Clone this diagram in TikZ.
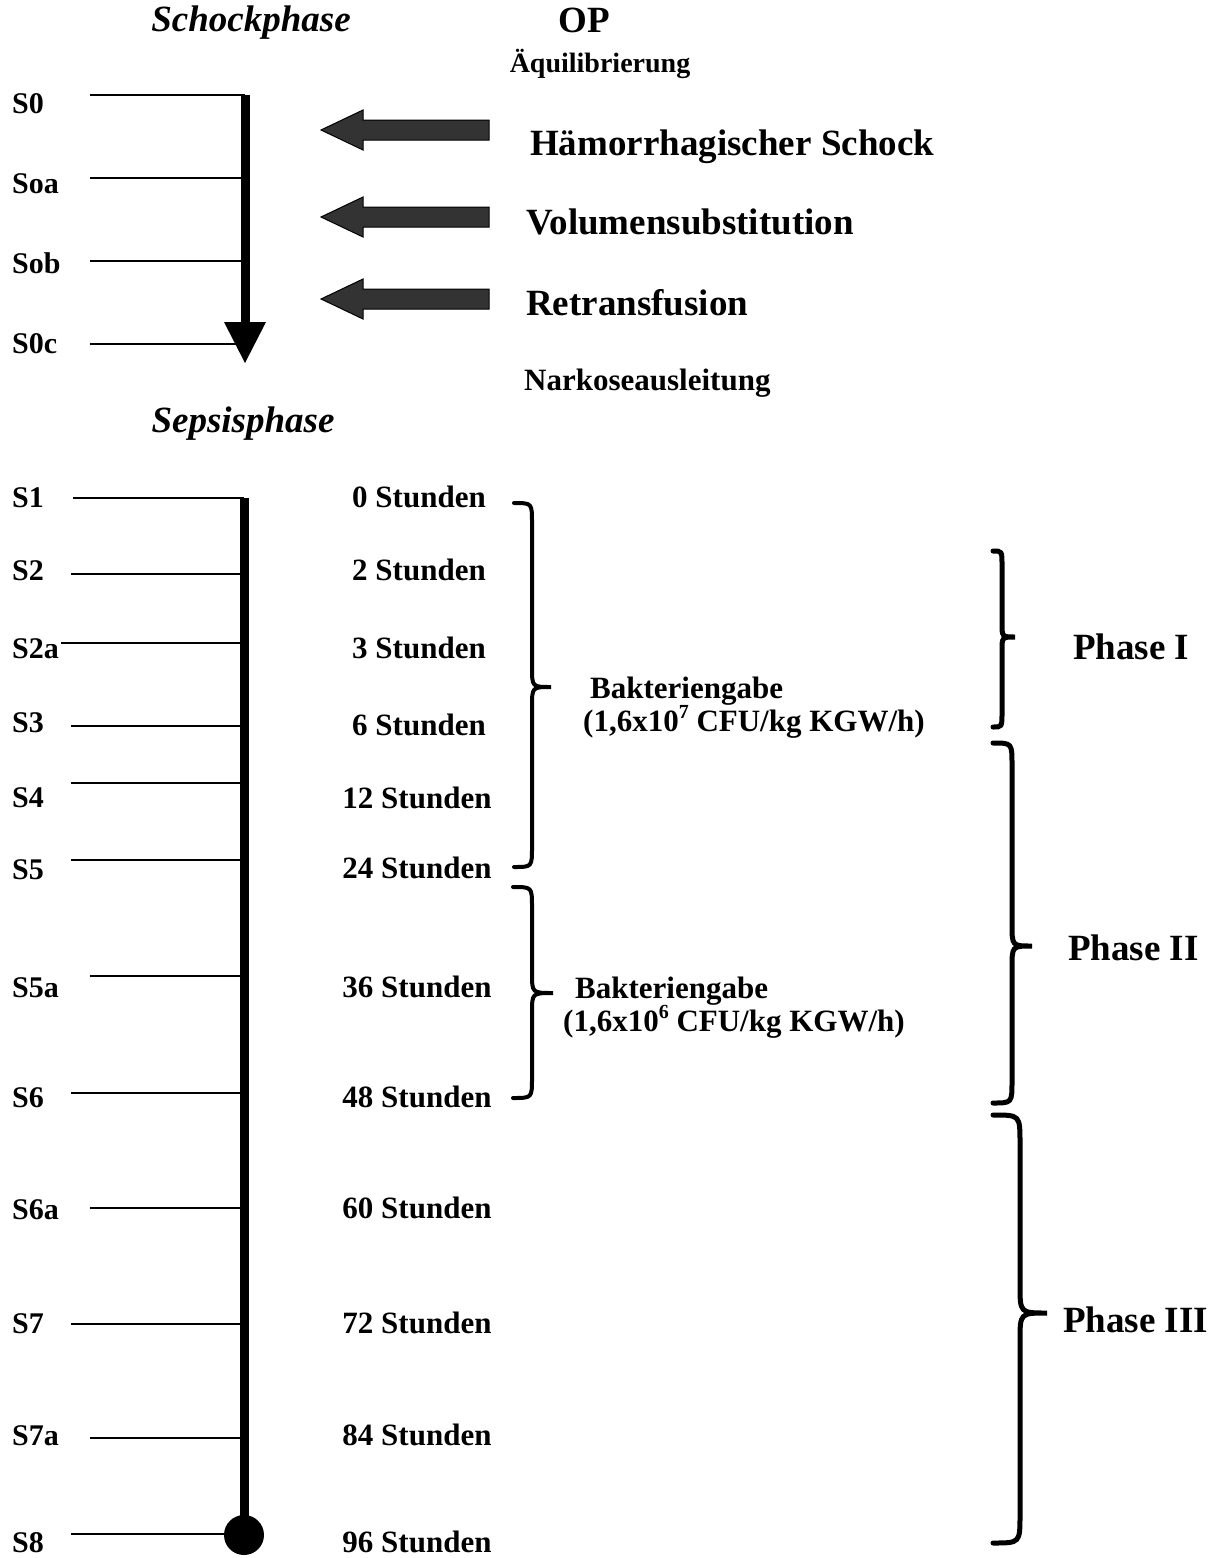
\documentclass[tikz,border=0pt]{standalone}
\usepackage{fontspec}
\setmainfont{Liberation Serif}
\newcommand\fsz[1]{\fontsize{#1}{#1}\selectfont}
\newcommand\supx[1]{\raisebox{0.4em}{\fontsize{20}{20}\selectfont\bfseries #1}}
\newcommand\mybrace[8]{%
  \draw[#8] (#1,#4) .. controls (#2,#4) .. (#2,#4+#7) -- (#2,#5-#7)
    .. controls (#2,#5) .. (#3,#5) .. controls (#2,#5) .. (#2,#5+#7)
    -- (#2,#6-#7) .. controls (#2,#6) .. (#1,#6);}
\tikzset{
  lbl/.style={anchor=base west, inner sep=0pt, font=\fsz{30}\bfseries},
  hrs/.style={anchor=base, inner sep=0pt, font=\fsz{31}\bfseries},
  big/.style={anchor=base west, inner sep=0pt, font=\fsz{37}\bfseries},
  ttl/.style={anchor=base, inner sep=0pt, font=\fsz{37}\bfseries\itshape},
  bak/.style={anchor=base west, inner sep=0pt, font=\fsz{31}\bfseries},
  tick/.style={line width=2pt},
  axis/.style={line width=9pt},
  blockarrow/.style={fill={rgb,255:red,51;green,51;blue,51}, draw=black, line width=1pt},
  bracethin/.style={line width=4pt, line cap=round},
  bracethick/.style={line width=5pt, line cap=round}
}
\begin{document}
\begin{tikzpicture}[x=1pt, y=-1pt]
\useasboundingbox (0,0) rectangle (1224,1558);
% ---------- titles
\node[ttl] (schock) at (251,31) {Schockphase};
\node[anchor=base, inner sep=0pt, font=\fsz{37}\bfseries] (op) at (584,32) {OP};
\node[anchor=base, inner sep=0pt, font=\fsz{28}\bfseries] (aequi) at (600,72) {Äquilibrierung};
\node[ttl] (sepsis) at (243,432) {Sepsisphase};
% ---------- shock phase axis
\coordinate (ax0) at (245,95);
\coordinate (ax1) at (245,322);
\draw[axis] (ax0) -- (ax1);
\fill (224,322) -- (266,322) -- (245,363) -- cycle;
\foreach \y/\xl/\xr in {95/90/245, 178/90/245, 261/90/245, 344/90/240}
  {\draw[tick] (\xl,\y) -- (\xr,\y);}
\node[lbl] (S0) at (12,113) {S0};
\node[lbl] (Soa) at (12,193) {Soa};
\node[lbl] (Sob) at (12,273) {Sob};
\node[lbl] (S0c) at (12,353) {S0c};
% ---------- block arrows
\foreach \c in {130,217,299}
  {\draw[blockarrow] (321,\c) -- (363,\c-20) -- (363,\c-10) -- (489,\c-10) -- (489,\c+10) -- (363,\c+10) -- (363,\c+20) -- cycle;}
\node[big] (haem) at (530,155) {Hämorrhagischer Schock};
\node[big] (vol) at (526,234) {Volumensubstitution};
\node[big] (retr) at (526,315) {Retransfusion};
\node[anchor=base west, inner sep=0pt, font=\fsz{31}\bfseries] (nark) at (524,390) {Narkoseausleitung};
% ---------- sepsis axis
\coordinate (sx0) at (244,498);
\coordinate (sx1) at (244,1535);
\draw[axis] (sx0) -- (sx1);
\foreach \y/\xl in {498/73, 574/71, 643/61, 726/71, 783/71, 860/71, 976/90, 1093/71, 1208/90, 1324/71, 1438/90, 1534/71}
  {\draw[tick] (\xl,\y) -- (244,\y);}
\fill (sx1) circle (20);
\node[lbl] (S1) at (12,507) {S1};
\node[lbl] (S2) at (12,580) {S2};
\node[lbl] (S2a) at (12,658) {S2a};
\node[lbl] (S3) at (12,732) {S3};
\node[lbl] (S4) at (12,807) {S4};
\node[lbl] (S5) at (12,879) {S5};
\node[lbl] (S5a) at (12,997) {S5a};
\node[lbl] (S6) at (12,1107) {S6};
\node[lbl] (S6a) at (12,1219) {S6a};
\node[lbl] (S7) at (12,1333) {S7};
\node[lbl] (S7a) at (12,1445) {S7a};
\node[lbl] (S8) at (12,1552) {S8};
% ---------- hours
\node[hrs] (h0) at (419,507) {0 Stunden};
\node[hrs] (h2) at (419,580) {2 Stunden};
\node[hrs] (h3) at (419,658) {3 Stunden};
\node[hrs] (h6) at (419,735) {6 Stunden};
\node[hrs] (h12) at (417,808) {12 Stunden};
\node[hrs] (h24) at (417,878) {24 Stunden};
\node[hrs] (h36) at (417,997) {36 Stunden};
\node[hrs] (h48) at (417,1107) {48 Stunden};
\node[hrs] (h60) at (417,1218) {60 Stunden};
\node[hrs] (h72) at (417,1333) {72 Stunden};
\node[hrs] (h84) at (417,1445) {84 Stunden};
\node[hrs] (h96) at (417,1552) {96 Stunden};
% ---------- bacteria braces
\mybrace{514}{532}{551}{503}{687}{867}{20}{bracethin}
\mybrace{513}{532}{553}{887}{993}{1098}{20}{bracethin}
\node[bak] (bak1) at (590,698) {Bakteriengabe};
\node[bak] (dose1) at (583,731) {(1,6x10\supx{7} CFU/kg KGW/h)};
\node[bak] (bak2) at (575,998) {Bakteriengabe};
\node[bak] (dose2) at (563,1031) {(1,6x10\supx{6} CFU/kg KGW/h)};
% ---------- phase braces
\mybrace{993}{1002}{1015}{551}{637}{727}{14}{bracethick}
\mybrace{993}{1012}{1032}{743}{946}{1103}{22}{bracethick}
\mybrace{993}{1020}{1047}{1115}{1313}{1543}{28}{bracethick}
\node[big] (p1) at (1073,659) {Phase I};
\node[big] (p2) at (1068,960) {Phase II};
\node[big] (p3) at (1063,1332) {Phase III};
\end{tikzpicture}
\end{document}
